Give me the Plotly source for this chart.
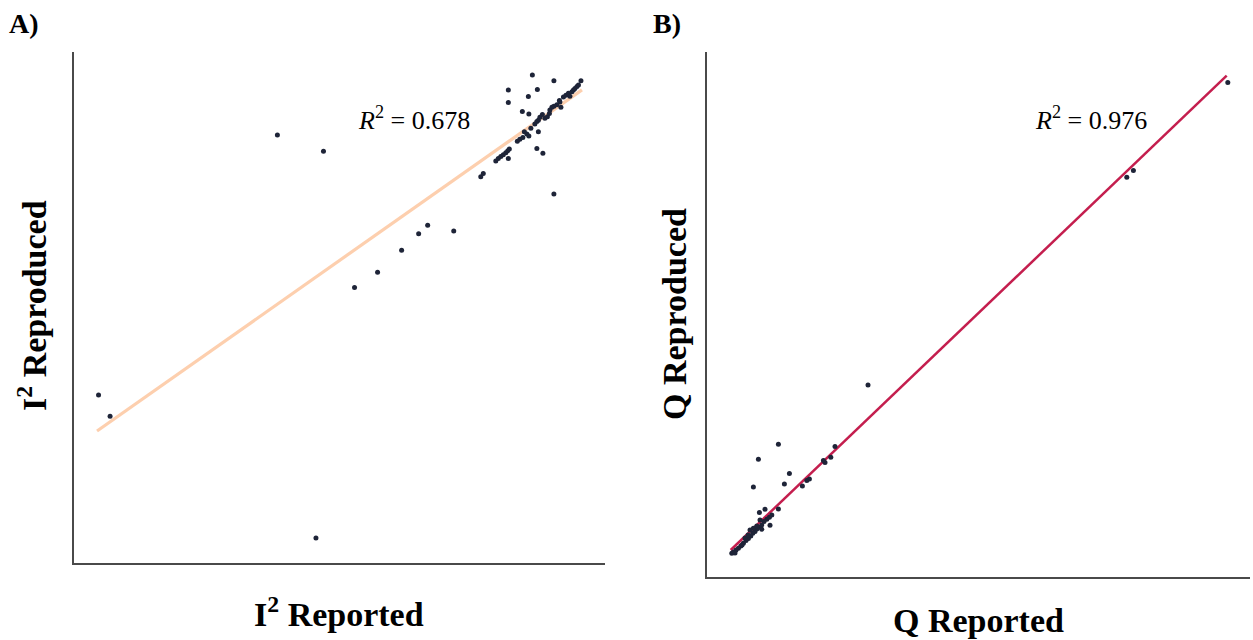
import plotly.graph_objects as go

# Panel A: I² (%) reported vs reproduced
i2_reported = [
    87.0, 91.3, 82.2, 88.0, 82.2, 86.2, 85.0, 86.3, 92.4, 92.7, 88.2, 87.9, 89.1, 91.3,
    82.2, 76.7, 77.2, 79.7, 80.2, 80.7, 81.2, 81.7, 82.1, 82.4, 84.0, 84.5, 85.1, 85.4,
    85.9, 86.3, 86.7, 87.5, 87.9, 88.2, 88.5, 89.0, 89.5, 90.0, 90.4, 90.5, 90.9, 91.3,
    91.9, 92.5, 93.2, 93.7, 94.2, 94.5, 94.9, 95.2, 95.5, 95.9, 96.2, 96.7,
    36.1, 45.3, 66.1, 64.3, 60.9, 56.1, 51.5, 71.3, 43.8, 0.4, 2.7,
]
i2_reproduced = [
    96.5, 95.3, 93.4, 93.5, 90.8, 92.0, 88.9, 88.4, 91.2, 89.8, 84.7, 81.2, 80.2, 71.7,
    79.1, 75.3, 76.0, 78.6, 79.1, 79.5, 79.9, 80.3, 80.7, 81.1, 82.7, 83.1, 83.5, 84.7,
    84.2, 83.8, 85.4, 86.3, 86.8, 87.1, 87.7, 88.3, 87.5, 87.8, 88.5, 89.2, 89.8, 90.0,
    90.3, 90.9, 91.9, 92.3, 92.7, 92.1, 93.0, 93.4, 93.7, 94.1, 94.4, 95.3,
    84.0, 80.6, 65.2, 63.4, 60.0, 55.4, 52.2, 64.0, 0.0, 29.8, 25.4,
]
i2_fit_x = [0.1, 96.9]
i2_fit_y = [22.3, 93.4]
i2_r2 = "0.678"

# Panel B: Cochran's Q reported vs reproduced
q_reported = [
    28.2, 18.2, 33.7, 31.2, 15.7, 56.5, 54.4, 51.5, 50.7, 43.7, 42.4, 40.2, 28.2, 21.5,
    18.7, 24.9, 23.7, 22.4, 21.0, 19.9, 18.7, 17.4, 16.5, 15.4, 14.4, 13.2, 12.0, 10.7,
    9.4, 8.2, 7.0, 5.7, 4.9, 15.7, 17.4, 19.9, 24.0, 11.5, 14.0, 10.0, 19.0, 6.5, 13.0,
    73.0, 202.4, 205.7, 252.9,
]
q_reproduced = [
    57.9, 50.4, 43.2, 38.0, 36.5, 56.7, 51.4, 48.7, 49.7, 40.5, 39.7, 37.0, 25.5, 25.4,
    23.7, 22.5, 21.4, 20.4, 19.2, 17.5, 16.4, 15.5, 14.2, 13.4, 12.0, 10.7, 9.7, 8.4,
    7.0, 5.9, 5.0, 4.0, 3.4, 15.9, 17.0, 15.4, 17.4, 11.0, 15.0, 7.5, 20.0, 3.5, 12.5,
    87.5, 191.4, 194.7, 238.7,
]
q_fit_x = [4.35, 252.35]
q_fit_y = [5.0, 242.15]
q_r2 = "0.976"

SERIF = "Liberation Serif"
DOT = "#1e2438"
AXIS = "#4a4a4a"

fig = go.Figure()

fig.add_trace(go.Scatter(x=i2_fit_x, y=i2_fit_y, mode="lines",
                         line=dict(color="#fdcfae", width=3.2), xaxis="x", yaxis="y",
                         showlegend=False, hoverinfo="skip"))
fig.add_trace(go.Scatter(x=i2_reported, y=i2_reproduced, mode="markers",
                         marker=dict(color=DOT, size=5), xaxis="x", yaxis="y",
                         showlegend=False))

fig.add_trace(go.Scatter(x=q_fit_x, y=q_fit_y, mode="lines",
                         line=dict(color="#c41e4e", width=2.5), xaxis="x2", yaxis="y2",
                         showlegend=False, hoverinfo="skip"))
fig.add_trace(go.Scatter(x=q_reported, y=q_reproduced, mode="markers",
                         marker=dict(color=DOT, size=5), xaxis="x2", yaxis="y2",
                         showlegend=False))

axis_style = dict(showgrid=False, zeroline=False, showticklabels=False, ticks="",
                  showline=True, linecolor=AXIS, linewidth=1.5)

fig.update_layout(
    width=1253, height=640,
    margin=dict(l=0, r=0, t=0, b=0),
    paper_bgcolor="white", plot_bgcolor="white",
    xaxis=dict(domain=[74 / 1253, 605 / 1253], range=[-4.5, 101.5], anchor="y", **axis_style),
    yaxis=dict(domain=[1 - 563 / 640, 1 - 52 / 640], range=[-5.2, 101.3], anchor="x", **axis_style),
    xaxis2=dict(domain=[707 / 1253, 1250 / 1253], range=[-7.5, 264], anchor="y2", **axis_style),
    yaxis2=dict(domain=[1 - 577 / 640, 1 - 52 / 640], range=[-8.5, 254], anchor="x2", **axis_style),
)

def label(text, x, y, size, bold=True, angle=0, xanchor="center"):
    fig.add_annotation(text=f"<b>{text}</b>" if bold else text,
                       x=x / 1253, y=1 - y / 640, xref="paper", yref="paper",
                       showarrow=False, textangle=angle, xanchor=xanchor, yanchor="middle",
                       font=dict(family=SERIF, size=size, color="black"))

label("A)", 7, 24, 28, xanchor="left")
label("B)", 651, 24, 28, xanchor="left")
label("I<sup>2</sup> Reported", 339, 612, 34)
label("I<sup>2</sup> Reproduced", 32, 306, 34, angle=-90)
label("Q Reported", 979, 620, 34)
label("Q Reproduced", 674, 314, 34, angle=-90)
label(f"<i>R</i><sup>2</sup> = {i2_r2}", 356, 119, 26, bold=False, xanchor="left")
label(f"<i>R</i><sup>2</sup> = {q_r2}", 1033, 119, 26, bold=False, xanchor="left")

fig.write_html("out.html")
